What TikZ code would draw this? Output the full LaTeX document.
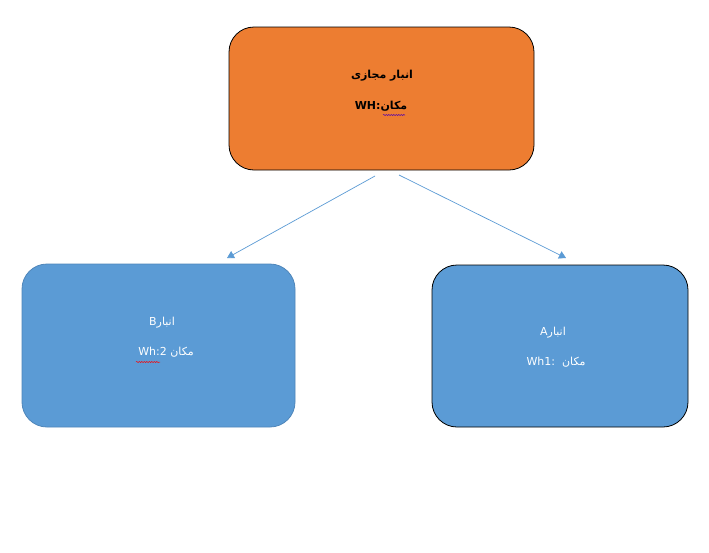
\documentclass[tikz,border=0pt]{standalone}
\usepackage{fontspec}
\setmainfont{DejaVu Sans}
\newfontfamily\arabicfont[Script=Arabic]{DejaVu Sans}
\TeXXeTstate=1
\usetikzlibrary{arrows.meta,decorations.pathmorphing}
\definecolor{orng}{HTML}{ED7D31}
\definecolor{blu}{HTML}{5B9BD5}
\definecolor{bluedge}{HTML}{4F86BA}
\definecolor{arrc}{HTML}{5B9BD5}
\tikzset{
  box/.style={rounded corners=25pt, line width=0.8pt},
  arr/.style={draw=arrc, line width=0.7pt, -{Triangle[length=7pt,width=8pt]}},
  lbl/.style={font=\arabicfont\fontsize{11}{13}\selectfont, inner sep=0pt},
  squig/.style={line width=0.5pt, decorate, decoration={snake, amplitude=0.6pt, segment length=2.5pt}}
}
\begin{document}
\begin{tikzpicture}[x=1pt,y=-1pt]
\useasboundingbox (0,0) rectangle (709,552);
\fill[white] (0,0) rectangle (709,552);
% boxes
\draw[box, fill=orng, draw=black] (229,27) rectangle (534,170);
\node (top) at (381.5,98.5) {};
\draw[box, fill=blu, draw=bluedge] (22,264) rectangle (295,427);
\node (left) at (158.5,345.5) {};
\draw[box, fill=blu, draw=black] (432,265) rectangle (688,427);
\node (right) at (560,346) {};
% texts
\node[lbl, font=\arabicfont\bfseries\fontsize{11}{13}\selectfont] (t1) at (382,76) {\beginR انبار مجازی\endR};
\node[lbl, font=\arabicfont\bfseries\fontsize{11}{13}\selectfont] (t2) at (381,106) {\beginR مکان:\beginL WH\endL\endR};
\node[lbl, text=white] (l1) at (162,323) {\beginR انبار\beginL B\endL\endR};
\node[lbl, text=white] (l2) at (166,352) {\beginR مکان \beginL Wh:2\endL\endR};
\node[lbl, text=white] (r1) at (553,333) {\beginR انبار\beginL A\endL\endR};
\node[lbl, text=white] (r2) at (556,362) {\beginR مکان \ \beginL Wh1:\endL\endR};
% spell-check squiggles
\coordinate (q1a) at (383,115); \coordinate (q1b) at (405,115);
\draw[squig, draw=blue!70!red] (q1a) -- (q1b);
\coordinate (q2a) at (136,362); \coordinate (q2b) at (160,362);
\draw[squig, draw=red] (q2a) -- (q2b);
% connectors
\coordinate (s1) at (375,176); \coordinate (e1) at (227,258);
\coordinate (s2) at (399,175); \coordinate (e2) at (566,258);
\draw[arr] (s1) -- (e1);
\draw[arr] (s2) -- (e2);
\end{tikzpicture}
\end{document}
